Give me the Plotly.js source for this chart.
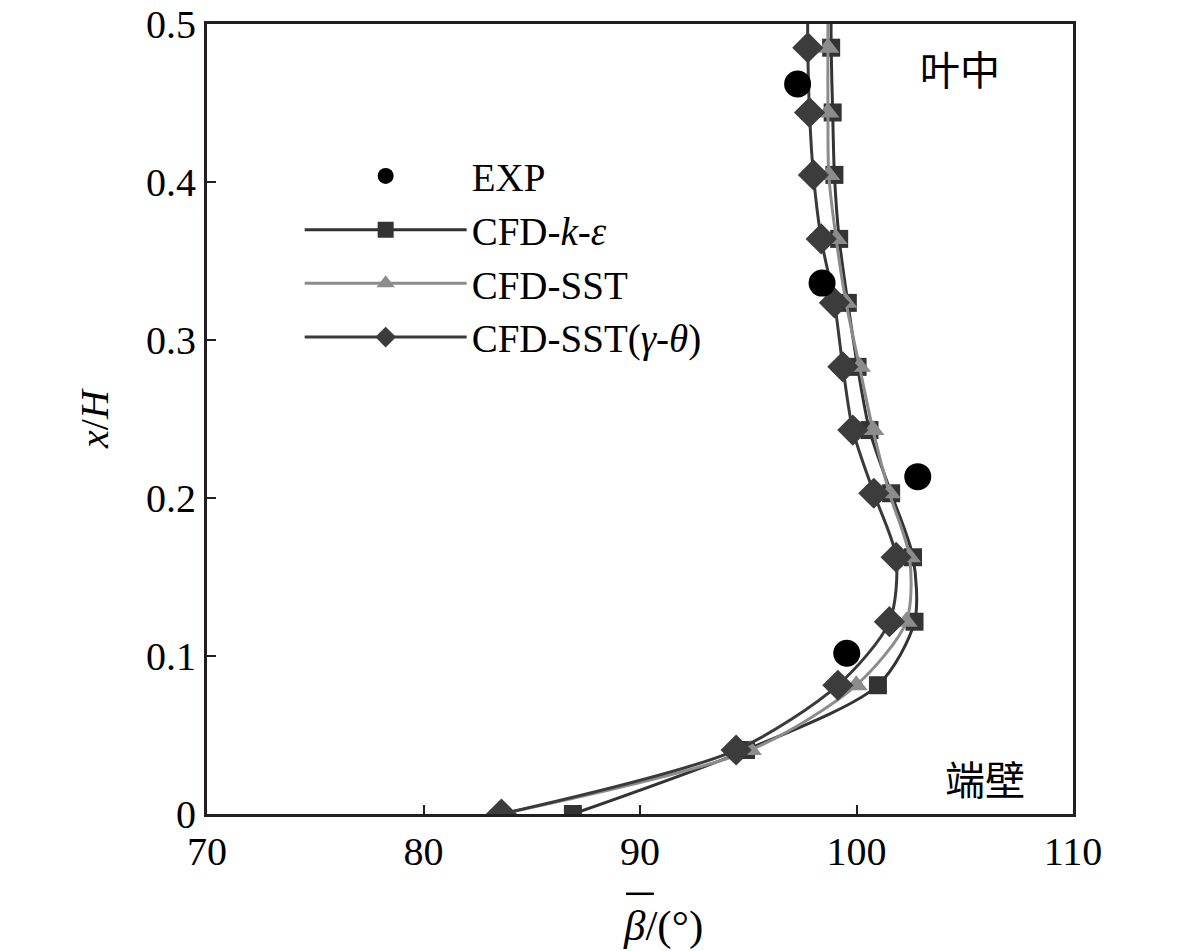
<!DOCTYPE html>
<html>
<head>
<meta charset="utf-8">
<script src="https://cdn.plot.ly/plotly-3.0.1.min.js"></script>
<style>
  html, body { margin: 0; padding: 0; background: #fff; }
  #chart { width: 1181px; height: 951px; }
</style>
</head>
<body>
<div id="chart"></div>
<script>
// x/H stations of the CFD profiles (last value just above the frame so the lines run off the top)
const cfdHeights = [0, 0.0405, 0.0815, 0.1217, 0.1625, 0.203, 0.243, 0.283, 0.3235, 0.364, 0.4045, 0.444, 0.485, 0.53];

// beta bar values
const kEpsilon = [86.9, 94.9, 100.99, 102.68, 102.61, 101.6, 100.6, 100.05, 99.6, 99.2, 98.98, 98.9, 98.83, 98.83];
const sst      = [83.6, 95.1, 99.99, 102.3, 102.45, 101.52, 100.76, 100.14, 99.52, 99.06, 98.72, 98.68, 98.68, 98.68];
const sstGamma = [83.6, 94.44, 99.14, 101.52, 101.83, 100.8, 99.83, 99.37, 98.98, 98.37, 98.01, 97.83, 97.75, 97.75];

// experiment
const expBeta    = [99.55, 102.83, 98.41, 97.28];
const expHeights = [0.1017, 0.2135, 0.336, 0.462];

const SERIF = "'Liberation Serif', 'Times New Roman', serif";
const CJK = "'Noto Sans CJK SC', sans-serif";

function cfdTrace(name, xs, lineColor, symbol, markerColor, size, rank) {
  return {
    type: "scatter",
    mode: "lines+markers",
    name,
    x: xs,
    y: cfdHeights,
    line: { color: lineColor, width: 3, shape: "spline", smoothing: 0.8 },
    marker: { symbol, size, color: markerColor, line: { width: 0 } },
    cliponaxis: true,
    legendrank: rank,
  };
}

const traces = [
  cfdTrace("CFD-<i>k</i>-<i>ε</i>", kEpsilon, "#333333", "square", "#333333", 18, 2),
  cfdTrace("CFD-SST", sst, "#8c8c8c", "triangle-up", "#8c8c8c", 20, 3),
  cfdTrace("CFD-SST(<i>γ</i>-<i>θ</i>)", sstGamma, "#3a3a3a", "diamond", "#3c3c3c", 24, 4),
  {
    type: "scatter",
    mode: "markers",
    name: "EXP",
    x: expBeta,
    y: expHeights,
    marker: { symbol: "circle", size: 27, color: "#000000" },
    legendrank: 1,
  },
];

const axisCommon = {
  showgrid: false,
  zeroline: false,
  showline: true,
  linecolor: "#231f20",
  linewidth: 3,
  mirror: true,
  ticks: "inside",
  ticklen: 9,
  tickwidth: 2,
  tickcolor: "#231f20",
  tickfont: { family: SERIF, size: 40, color: "#000" },
};

const layout = {
  width: 1181,
  height: 951,
  paper_bgcolor: "#fff",
  plot_bgcolor: "#fff",
  margin: { l: 207, r: 108, t: 24, b: 137 },
  showlegend: true,
  legend: {
    x: 0.107,
    y: 0.848,
    xanchor: "left",
    yanchor: "top",
    bgcolor: "rgba(0,0,0,0)",
    font: { family: SERIF, size: 39, color: "#000" },
    itemwidth: 162,
    itemsizing: "trace",
    tracegroupgap: 0,
  },
  xaxis: Object.assign({}, axisCommon, {
    range: [70, 110],
    tickvals: [70, 80, 90, 100, 110],
    ticklabelstandoff: 0,
  }),
  yaxis: Object.assign({}, axisCommon, {
    range: [0, 0.5],
    tickvals: [0, 0.1, 0.2, 0.3, 0.4, 0.5],
    ticktext: ["0", "0.1", "0.2", "0.3", "0.4", "0.5"],
    title: { text: "<i>x</i>/<i>H</i>", font: { family: SERIF, size: 40, color: "#000" }, standoff: 26 },
  }),
  shapes: [
    // the bar over beta
    {
      type: "line", xref: "paper", yref: "paper",
      x0: 0.4838, x1: 0.516, y0: -0.101, y1: -0.101,
      line: { color: "#000", width: 2.5 },
    },
  ],
  annotations: [
    {
      text: "<i>β</i>/(°)", xref: "paper", yref: "paper", x: 0.5266, y: -0.1418,
      xanchor: "center", yanchor: "middle",
      showarrow: false, font: { family: SERIF, size: 43, color: "#000" },
    },
    {
      text: "叶中", xref: "paper", yref: "paper", x: 0.869, y: 0.944,
      xanchor: "center", yanchor: "middle",
      showarrow: false, font: { family: CJK, size: 40, color: "#000" },
    },
    {
      text: "端壁", xref: "paper", yref: "paper", x: 0.898, y: 0.0456,
      xanchor: "center", yanchor: "middle",
      showarrow: false, font: { family: CJK, size: 40, color: "#000" },
    },
  ],
};

Plotly.newPlot("chart", traces, layout, { displayModeBar: false, staticPlot: true });
</script>
</body>
</html>
